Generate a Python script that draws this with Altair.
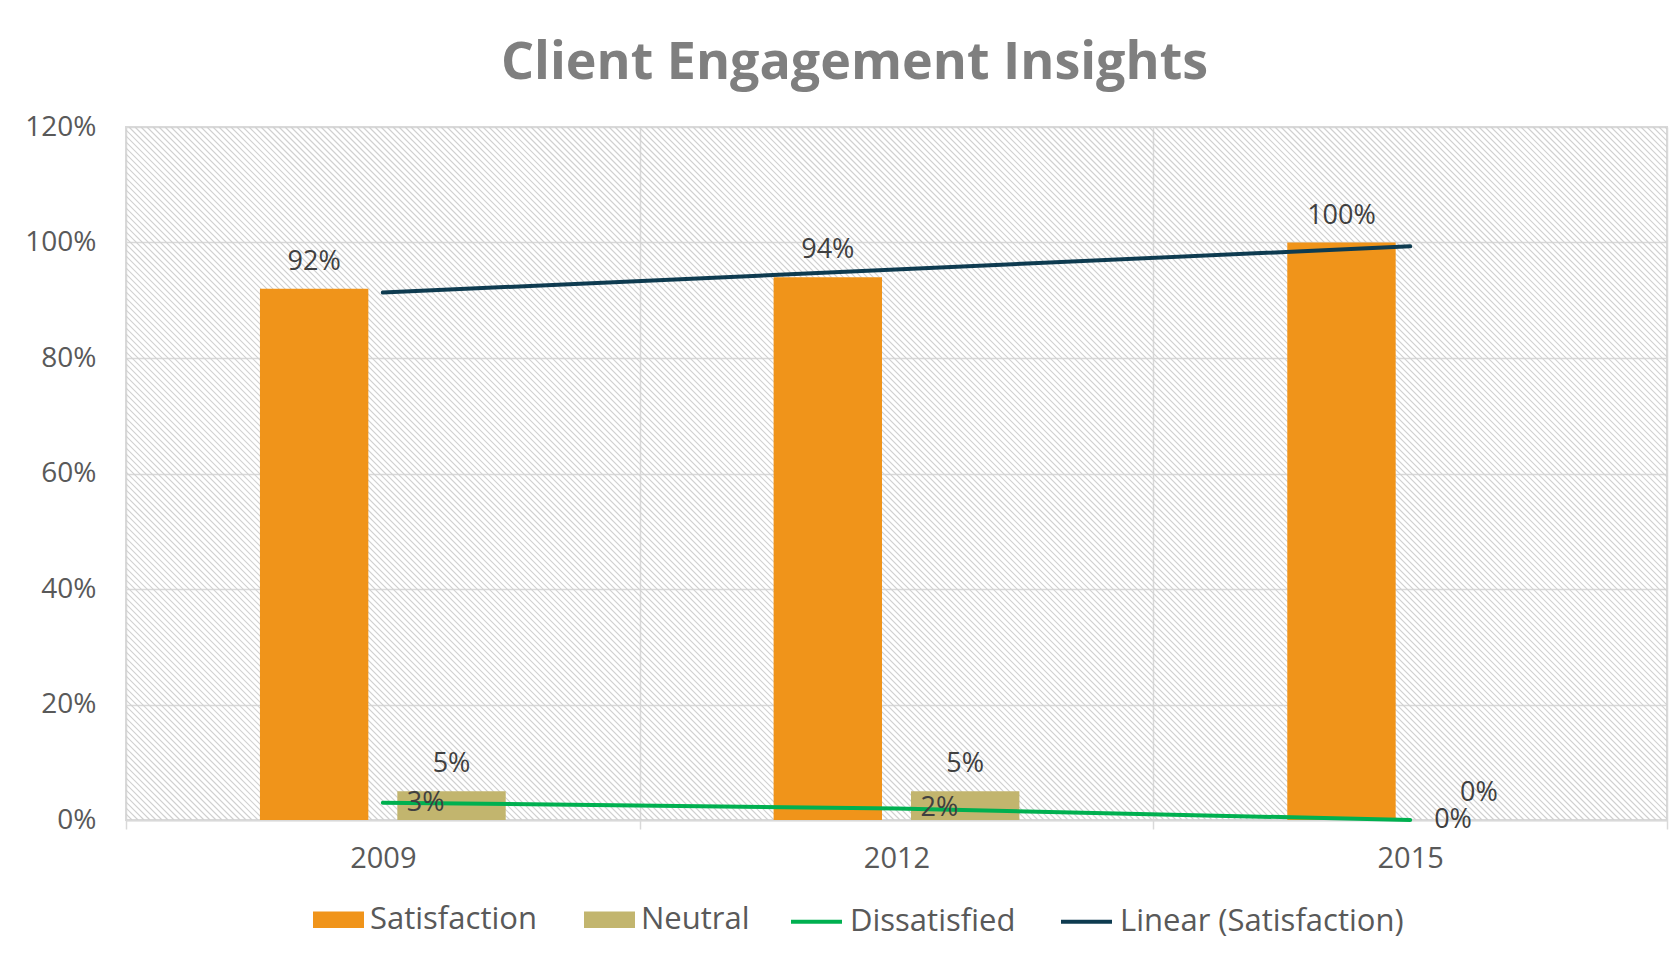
import altair as alt
import pandas as pd

# ---- data ----
years = ["2009", "2012", "2015"]
satisfaction = [0.92, 0.94, 1.00]
neutral = [0.05, 0.05, 0.00]
dissatisfied = [0.03, 0.02, 0.00]
bar_series = ["Satisfaction", "Neutral"]
line_series = ["Dissatisfied", "Linear (Satisfaction)"]
y_ticks = [0, 0.2, 0.4, 0.6, 0.8, 1.0, 1.2]

W, H = 1541, 693
FONT = "Open Sans"

bars_df = pd.DataFrame({
    "year": years * 2,
    "series": ["Satisfaction"] * 3 + ["Neutral"] * 3,
    "value": satisfaction + neutral,
})
dis_df = pd.DataFrame({"year": years, "series": ["Dissatisfied"] * 3, "value": dissatisfied})
trend_src = pd.DataFrame({"yr": [int(y) for y in years], "value": satisfaction})

# ---- decorative diagonal hatch texture of the plot area (pixel space, no scale) ----
HATCH_STEP = 6
hatch_start = list(range(-H, W + HATCH_STEP, HATCH_STEP))
hatch_df = pd.DataFrame({
    "hx0": hatch_start,
    "hx1": [c + H for c in hatch_start],
    "hy0": [0] * len(hatch_start),
    "hy1": [H] * len(hatch_start),
})

# ---- scales / axes ----
x_scale = alt.Scale(domain=years, paddingInner=0, paddingOuter=0)
y_scale = alt.Scale(domain=[0, 1.2], nice=False)
off_scale = alt.Scale(domain=bar_series, paddingInner=0.211, paddingOuter=0.975)
fill_scale = alt.Scale(domain=bar_series, range=["#F0941A", "#C2B56E"])
stroke_scale = alt.Scale(domain=line_series, range=["#00B050", "#0E3B50"])

x_axis = alt.Axis(title=None, labelAngle=0, tickBand="extent", grid=True, ticks=True,
                  tickSize=9, tickWidth=1.5, labelFontSize=29, labelPadding=15,
                  domainWidth=2)
y_axis = alt.Axis(title=None, values=y_ticks, format=".0%", domain=False, ticks=False,
                  labelFontSize=28, labelPadding=30)

legend_common = dict(title=None, orient="none", legendY=767, direction="horizontal",
                     symbolSize=2600, labelFont=FONT, labelFontSize=31,
                     labelColor="#595959", labelOffset=6,
                     padding=0, labelLimit=500, symbolOpacity=1)
fill_legend = alt.Legend(legendX=187, symbolType="M-1,-0.32H1V0.32H-1Z",
                         symbolStrokeWidth=0, columnPadding=47, **legend_common)
stroke_legend = alt.Legend(legendX=663, symbolType="stroke", symbolStrokeWidth=4,
                           columnPadding=37, **legend_common)

hatch = alt.Chart(hatch_df).mark_rule(
    clip=True, stroke="#D0D0D0", strokeWidth=1.2
).encode(
    x=alt.X("hx0:Q", scale=None, axis=None),
    x2="hx1:Q",
    y=alt.Y("hy0:Q", scale=None, axis=None),
    y2="hy1:Q",
)

bars = alt.Chart(bars_df).mark_bar().encode(
    x=alt.X("year:N", scale=x_scale, axis=x_axis),
    xOffset=alt.XOffset("series:N", scale=off_scale),
    y=alt.Y("value:Q", scale=y_scale, axis=y_axis),
    fill=alt.Fill("series:N", scale=fill_scale, legend=fill_legend),
)

bar_labels = alt.Chart(bars_df).mark_text(
    dy=-19, baseline="alphabetic", font=FONT, fontSize=27, color="#404040"
).encode(
    x=alt.X("year:N"),
    xOffset=alt.XOffset("series:N"),
    y=alt.Y("value:Q"),
    text=alt.Text("value:Q", format=".0%"),
)

dis_line = alt.Chart(dis_df).mark_line(strokeWidth=4, strokeCap="round").encode(
    x=alt.X("year:N"),
    y=alt.Y("value:Q"),
    stroke=alt.Stroke("series:N", scale=stroke_scale, legend=stroke_legend),
)

dis_labels = alt.Chart(dis_df).mark_text(
    align="left", dx=24, baseline="middle", font=FONT, fontSize=27, color="#404040"
).encode(
    x=alt.X("year:N"),
    y=alt.Y("value:Q"),
    text=alt.Text("value:Q", format=".0%"),
)

trend = alt.Chart(trend_src).transform_regression(
    "yr", "value"
).transform_calculate(
    year="toString(datum.yr)", series="'Linear (Satisfaction)'"
).mark_line(strokeWidth=4, strokeCap="round").encode(
    x=alt.X("year:N"),
    y=alt.Y("value:Q"),
    stroke=alt.Stroke("series:N", scale=stroke_scale, legend=stroke_legend),
)

chart = alt.layer(hatch, bars, bar_labels, dis_line, trend, dis_labels).properties(
    width=W,
    height=H,
    autosize=alt.AutoSizeParams(type="none"),
    padding={"left": 118, "top": 119, "right": 3, "bottom": 122},
    title=alt.Title("Client Engagement Insights", font=FONT, fontSize=52,
                    fontWeight="bold", color="#7F7F7F", anchor="middle",
                    offset=23, dx=-42),
).configure_view(
    stroke="#D9D9D9", strokeWidth=2
).configure_axis(
    labelFont=FONT, labelColor="#595959", gridColor="#D9D9D9", gridWidth=1.5,
    domainColor="#D9D9D9", tickColor="#D9D9D9"
)

chart.save("out.html", embed_options={"renderer": "svg", "actions": False})
